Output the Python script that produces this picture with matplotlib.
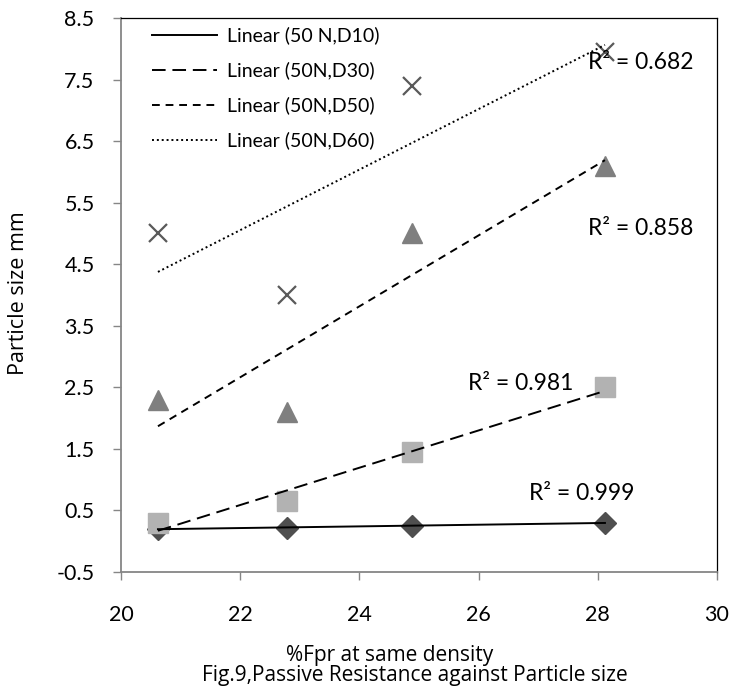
import numpy as np
import matplotlib
matplotlib.use("Agg")
import matplotlib.pyplot as plt

plt.rcParams["font.family"] = ["Lato", "DejaVu Sans"]

# %Fpr at same density
fpr = [20.62, 22.78, 24.89, 28.12]
# particle sizes (mm)
d10 = [0.20, 0.22, 0.25, 0.30]
d30 = [0.30, 0.65, 1.45, 2.50]
d50 = [2.30, 2.10, 5.00, 6.10]
d60 = [5.00, 4.00, 7.40, 7.95]
r2_labels = ["R\u00b2 = 0.999", "R\u00b2 = 0.981", "R\u00b2 = 0.858", "R\u00b2 = 0.682"]
r2_pos = [(26.85, 0.77), (25.82, 2.57), (27.84, 5.08), (27.84, 7.78)]
legend_names = ["Linear (50 N,D10)", "Linear (50N,D30)", "Linear (50N,D50)", "Linear (50N,D60)"]

SERIES = [
    (d10, "D", "#4f4f4f", 11, "-"),
    (d30, "s", "#b2b2b2", 14, (0, (7, 3.5))),
    (d50, "^", "#7f7f7f", 14, (0, (4, 3))),
    (d60, "x", "#5a5a5a", 13, (0, (1, 1.5))),
]
LABEL_FONT = ["Open Sans", "DejaVu Sans"]

fig = plt.figure(figsize=(7.34, 6.89), dpi=100)
ax = fig.add_axes([121 / 734, 1 - 572 / 689, 596 / 734, 554 / 689])

x = np.array(fpr)
lines = []
for (ys, mk, col, ms, ls), name in zip(SERIES, legend_names):
    if mk == "x":
        ax.plot(x, ys, ls="none", marker=mk, ms=ms, mew=1.6, color=col, zorder=3)
    else:
        ax.plot(x, ys, ls="none", marker=mk, ms=ms, color=col, mec=col, zorder=3)
    k, b = np.polyfit(x, ys, 1)   # excel-style linear trendline
    xx = np.array([x.min(), x.max()])
    ln, = ax.plot(xx, k * xx + b, color="black", lw=1.4, ls=ls, zorder=4, label=name)
    lines.append(ln)

for lab, (tx, ty) in zip(r2_labels, r2_pos):
    ax.text(tx, ty, lab, fontsize=16.5, ha="left", va="center", zorder=5)

ax.set_xlim(20, 30)
ax.set_ylim(-0.5, 8.5)
ax.set_xticks(np.arange(20, 31, 2))
ax.set_yticks(np.arange(-0.5, 8.6, 1.0))
ax.set_yticklabels([f"{v:.1f}" for v in np.arange(-0.5, 8.6, 1.0)])
ax.tick_params(axis="both", direction="out", length=6, width=1, color="#868686",
               labelsize=15.5)
ax.tick_params(axis="y", pad=13)
ax.tick_params(axis="x", pad=18)
for s in ["left", "bottom"]:
    ax.spines[s].set_color("#868686")
    ax.spines[s].set_linewidth(1.3)
for s in ["top", "right"]:
    ax.spines[s].set_color("black")
    ax.spines[s].set_linewidth(0.9)

ax.legend(handles=lines, loc="upper left", bbox_to_anchor=(0.022, 1.016), frameon=False,
          fontsize=14, handlelength=3.35, handletextpad=0.55, labelspacing=0.88)

fig.text(19 / 734, 1 - 293 / 689, "Particle size mm", rotation=90, ha="center",
         va="center", fontsize=15.5, family=LABEL_FONT)
fig.text(390 / 734, 1 - 655 / 689, "%Fpr at same density", ha="center", va="center",
         fontsize=15, family=LABEL_FONT)
fig.text(415 / 734, 1 - 676 / 689, "Fig.9,Passive Resistance against Particle size",
         ha="center", va="center", fontsize=15, family=LABEL_FONT)

fig.savefig("out.png", dpi=100)
